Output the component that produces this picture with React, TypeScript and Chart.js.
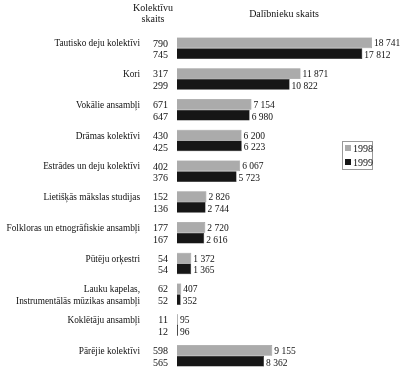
import React, { useEffect, useRef } from "react";
import { Chart, registerables } from "chart.js";

Chart.register(...registerables);

const categories: string[][] = [
  ["Tautisko deju kolektīvi"],
  ["Kori"],
  ["Vokālie ansambļi"],
  ["Drāmas kolektīvi"],
  ["Estrādes un deju kolektīvi"],
  ["Lietišķās mākslas studijas"],
  ["Folkloras un etnogrāfiskie ansambļi"],
  ["Pūtēju orķestri"],
  ["Lauku kapelas,", "Instrumentālās mūzikas ansambļi"],
  ["Koklētāju ansambļi"],
  ["Pārējie kolektīvi"],
];
const participants1998 = [18741, 11871, 7154, 6200, 6067, 2826, 2720, 1372, 407, 95, 9155];
const participants1999 = [17812, 10822, 6980, 6223, 5723, 2744, 2616, 1365, 352, 96, 8362];
const groups1998 = [790, 317, 671, 430, 402, 152, 177, 54, 62, 11, 598];
const groups1999 = [745, 299, 647, 425, 376, 136, 167, 54, 52, 12, 565];
const seriesLabels = ["1998", "1999"];
const headerLeft = ["Kolektīvu", "skaits"];
const headerRight = "Dalībnieku skaits";

const FONT = "'Liberation Serif', 'Times New Roman', serif";
const GRAY = "#ababab";
const BLACK = "#161616";

const fmt = (v: number) => String(v).replace(/\B(?=(\d{3})+(?!\d))/g, " ");

const textPlugin = {
  id: "textPlugin",
  afterDatasetsDraw(chart: any) {
    const ctx = chart.ctx;
    ctx.save();
    ctx.fillStyle = "#111";
    ctx.textBaseline = "middle";
    const m0 = chart.getDatasetMeta(0);
    const m1 = chart.getDatasetMeta(1);
    categories.forEach((lines, i) => {
      const b0 = m0.data[i];
      const b1 = m1.data[i];
      const y0 = b0.y + 1;
      const y1 = b1.y + 2;
      // category name
      ctx.textAlign = "right";
      ctx.font = `9.3px ${FONT}`;
      ctx.fillText(lines[0], 140, y0);
      if (lines[1]) ctx.fillText(lines[1], 140, y1);
      // counts
      ctx.font = `10px ${FONT}`;
      ctx.fillText(String(groups1998[i]), 168, y0);
      ctx.fillText(String(groups1999[i]), 168, y1);
      // values
      ctx.textAlign = "left";
      ctx.font = `9.5px ${FONT}`;
      ctx.fillText(fmt(participants1998[i]), b0.x + 2, y0);
      ctx.fillText(fmt(participants1999[i]), b1.x + 2, y1);
    });
    // headers
    ctx.font = `10px ${FONT}`;
    ctx.textAlign = "center";
    ctx.fillText(headerLeft[0], 153, 8);
    ctx.fillText(headerLeft[1], 153, 19);
    ctx.fillText(headerRight, 284, 14);
    // legend
    ctx.strokeStyle = "#999";
    ctx.lineWidth = 1;
    ctx.strokeRect(342.5, 141.5, 30, 28);
    const cols = [GRAY, BLACK];
    ctx.textAlign = "left";
    seriesLabels.forEach((s, k) => {
      const yy = 148 + k * 14;
      ctx.fillStyle = cols[k];
      ctx.fillRect(345, yy - 3, 6, 6);
      ctx.fillStyle = "#111";
      ctx.fillText(s, 353, yy + 1);
    });
    ctx.restore();
  },
};

export default function App() {
  const ref = useRef<HTMLCanvasElement>(null);
  useEffect(() => {
    if (!ref.current) return;
    const chart = new Chart(ref.current, {
      type: "bar",
      data: {
        labels: categories.map((c) => c.join(" ")),
        datasets: [
          {
            label: seriesLabels[0],
            data: participants1998,
            backgroundColor: GRAY,
            borderColor: "#777",
            borderWidth: 0.5,
            categoryPercentage: 0.7,
            barPercentage: 1,
          },
          {
            label: seriesLabels[1],
            data: participants1999,
            backgroundColor: BLACK,
            borderColor: "#000",
            borderWidth: 0.5,
            categoryPercentage: 0.7,
            barPercentage: 1,
          },
        ],
      },
      options: {
        indexAxis: "y",
        animation: false,
        responsive: false,
        layout: { padding: { left: 177, right: 28, top: 33, bottom: 4 } },
        scales: {
          x: { display: false, min: 0, max: 18741 },
          y: { display: false },
        },
        plugins: {
          legend: { display: false },
          tooltip: { enabled: false },
        },
      },
      plugins: [textPlugin],
    });
    return () => chart.destroy();
  }, []);
  return (
    <div style={{ position: "fixed", left: 0, top: 0, width: 400, height: 375, background: "#fff" }}>
      <canvas ref={ref} width={400} height={375} style={{ width: 400, height: 375 }} />
    </div>
  );
}
